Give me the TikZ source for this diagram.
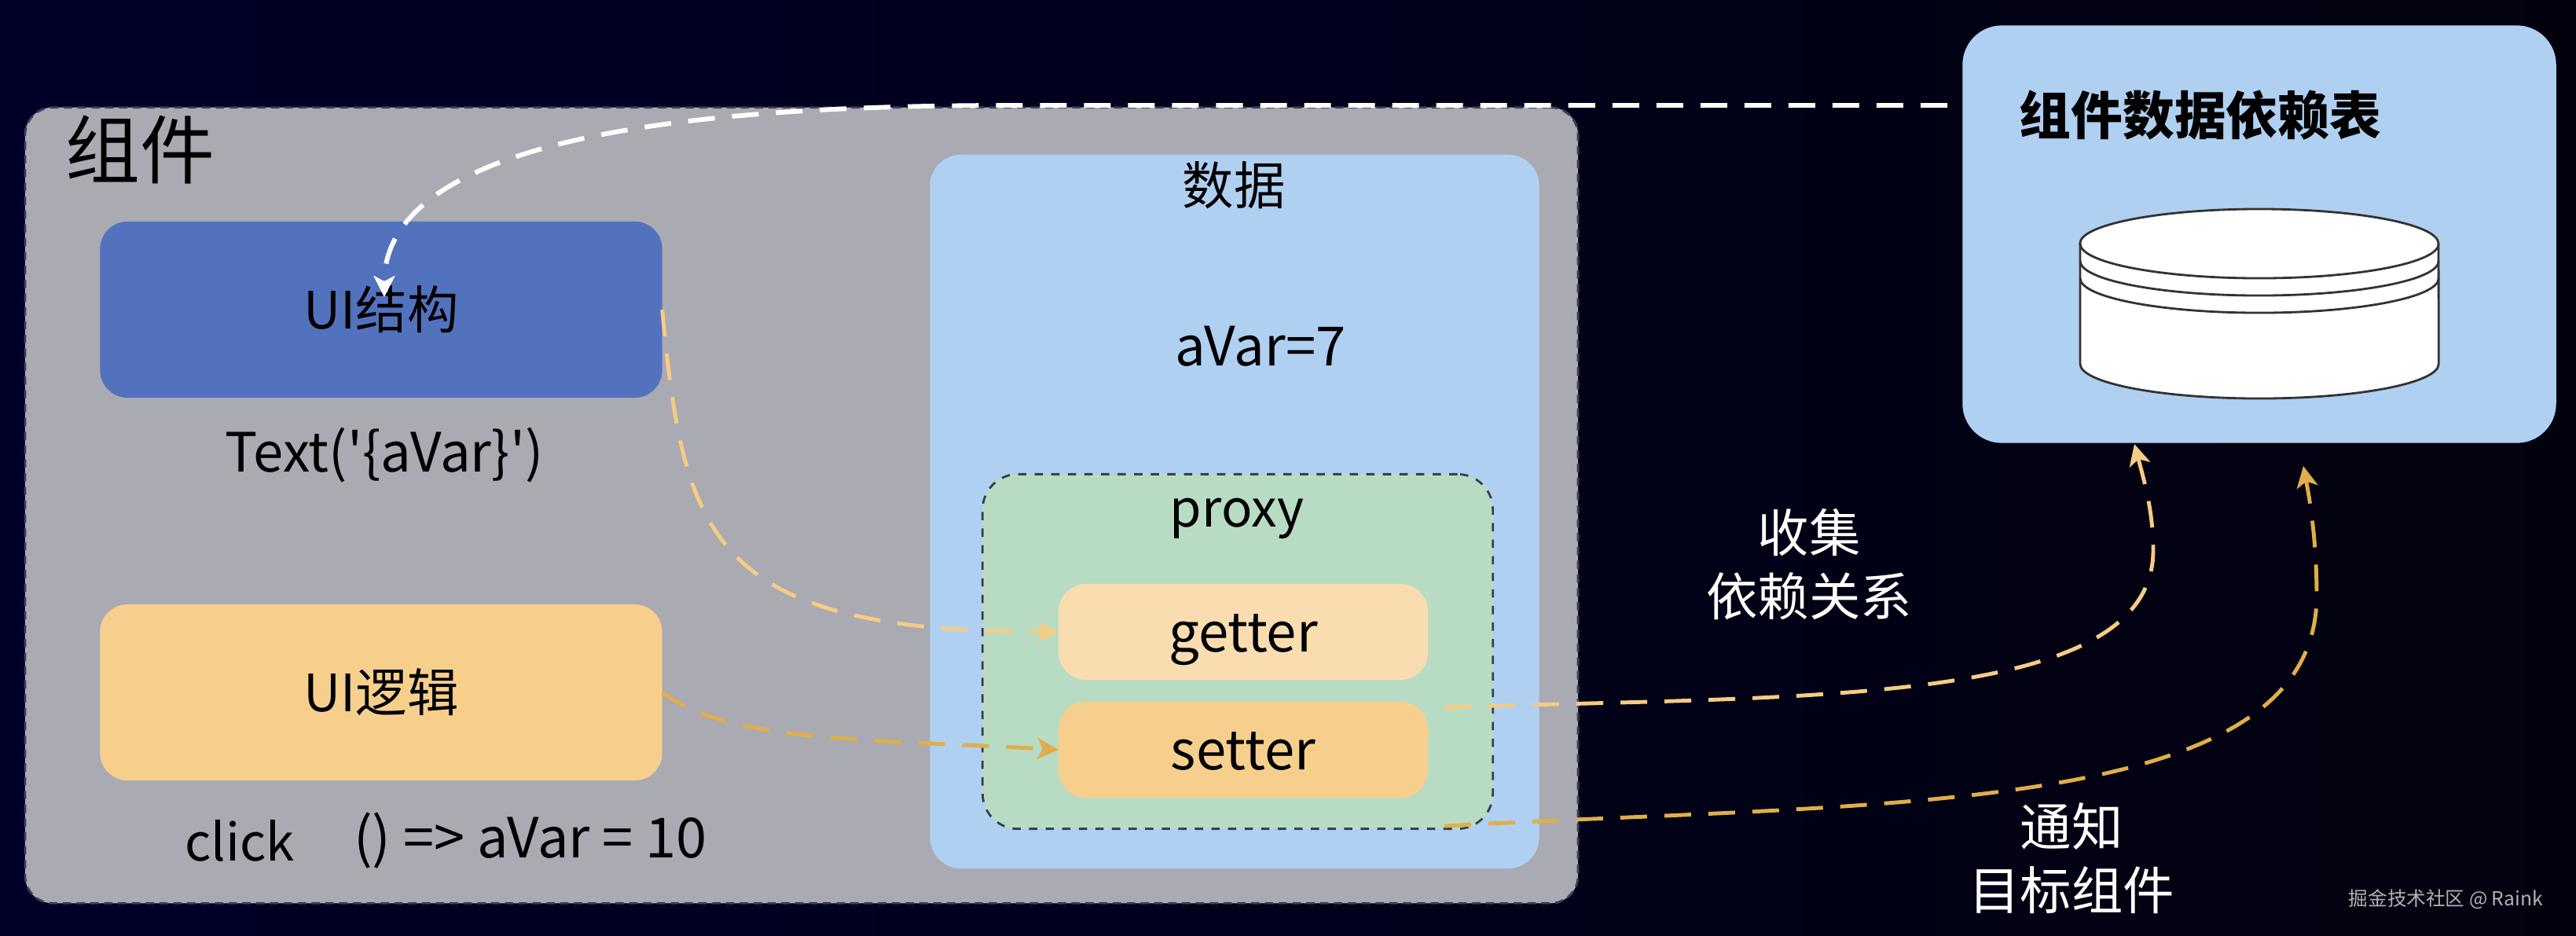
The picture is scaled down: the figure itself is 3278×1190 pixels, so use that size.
\documentclass[tikz,border=0pt]{standalone}
\usepackage{fontspec}
\setmainfont{Noto Sans CJK SC}
\usetikzlibrary{arrows.meta}
\definecolor{NightLeft}{HTML}{000028}
\definecolor{NightRight}{HTML}{02020F}
\definecolor{CompGray}{HTML}{A9AAB2}
\definecolor{EdgeSlate}{HTML}{3A3F55}
\definecolor{SkyBlue}{HTML}{B0D0F2}
\definecolor{RoyalBlue}{HTML}{5272BE}
\definecolor{SandOrange}{HTML}{F7CF8C}
\definecolor{PaleOrange}{HTML}{F9DDB0}
\definecolor{MintGreen}{HTML}{B8DCC3}
\definecolor{GoldLine}{HTML}{E0AE4A}
\definecolor{SandLine}{HTML}{F6CB84}
\tikzset{
  panel/.style={rounded corners=#1,inner sep=0pt,outer sep=0pt},
  bodytext/.style={font=\fontsize{18.6pt}{23pt}\selectfont,text=black},
  latintext/.style={font=\fontsize{19.6pt}{23pt}\selectfont,text=black},
  flow/.style={-{Stealth[length=2.7mm,width=2.7mm,inset=.7mm]},line width=1.4pt,dash pattern=on 3.4mm off 2.2mm},
}
\begin{document}
\begin{tikzpicture}[x=0.01cm,y=-0.01cm]
      \shade[left color=NightLeft,right color=NightRight] (0,0) rectangle (3278,1190);
      % boxes
      \node[panel=3.5mm,fill=CompGray,draw=EdgeSlate,densely dashed,line width=.8pt,minimum width=19.75cm,minimum height=10.12cm] (comp) at (1020,643) {};
      \node[panel=4mm,fill=SkyBlue,minimum width=7.75cm,minimum height=9.08cm] (data) at (1571,651) {};
      \node[panel=4.5mm,fill=MintGreen,draw=EdgeSlate,dashed,line width=.8pt,minimum width=6.49cm,minimum height=4.51cm] (proxy) at (1575,829) {};
      \node[panel=3.5mm,fill=PaleOrange,latintext,text height=.5cm,text depth=0pt,minimum width=4.70cm,minimum height=1.22cm] (getter) at (1582,804) {getter};
      \node[panel=3.5mm,fill=SandOrange,latintext,text height=.5cm,text depth=0pt,minimum width=4.70cm,minimum height=1.22cm] (setter) at (1582,954) {setter};
      \node[panel=3.5mm,fill=RoyalBlue,bodytext,minimum width=7.15cm,minimum height=2.24cm] (uiStruct) at (485,394) {UI结构};
      \node[panel=3.5mm,fill=SandOrange,bodytext,minimum width=7.15cm,minimum height=2.24cm] (uiLogic) at (485,881) {UI逻辑};
      \node[panel=5mm,fill=SkyBlue,minimum width=7.55cm,minimum height=5.31cm] (depTable) at (2875,298) {};
      % cylinder
      \draw[fill=white,draw=black!80,line width=.8pt] (2647,310) -- (2647,463) arc[start angle=180,end angle=360,x radius=2.28cm,y radius=.44cm] -- (3103,310) arc[start angle=0,end angle=180,x radius=2.28cm,y radius=.44cm] -- cycle;
      \foreach \y in {310,332,354}{
      \draw[draw=black!80,line width=.8pt] (2647,\y) arc[start angle=180,end angle=360,x radius=2.28cm,y radius=.44cm];
      }
      % texts
      \node[font=\fontsize{27pt}{30pt}\selectfont,text=black] (compTitle) at (178,190) {组件};
      \node[font=\fontsize{18.7pt}{23pt}\bfseries,text=black] (depTitle) at (2800,147) {组件数据依赖表};
      \node[bodytext] (dataTitle) at (1570,236) {数据};
      \node[latintext] (aVarText) at (1604,441) {aVar=7};
      \node[bodytext] (proxyTitle) at (1574,660) {proxy};
      \node[latintext] (textCall) at (489,579) {Text(\textquotesingle\{aVar\}\textquotesingle)};
      \node[bodytext] (clickText) at (305,1070) {click};
      \node[font=\fontsize{20pt}{23pt}\selectfont,text=black] (clickCall) at (675,1070) {() => aVar = 10};
      \node[bodytext,text=white,align=center] (collect) at (2302,718) {收集\\依赖关系};
      \node[bodytext,text=white,align=center] (notify) at (2636,1092) {通知\\目标组件};
      \node[font=\fontsize{7pt}{9pt}\selectfont,text=black!30,anchor=east] (mark) at (3248,1144) {掘金技术社区 @ Raink};
      % connector ends
      \coordinate (uiTip) at (489,378);
      \coordinate (depLeft) at (2478,134);
      \coordinate (setterOut) at (1838,900);
      \coordinate (proxyOut) at (1838,1051);
      \coordinate (depTipA) at (2716,565);
      \coordinate (depTipB) at (2931,593);
      % connectors
      \draw[flow,white,line width=1.7pt] (depLeft) -- (1300,134) .. controls (1000,134) and (489,150) .. (uiTip);
      \draw[flow,SandLine] (uiStruct.east) .. controls (870,680) and (900,804) .. (getter.west);
      \draw[flow,GoldLine] (uiLogic.east) .. controls (930,945) and (1100,940) .. (setter.west);
      \draw[flow,SandLine] (setterOut) .. controls (2300,885) and (2740,900) .. (2740,700) .. controls (2740,650) and (2728,610) .. (depTipA);
      \draw[flow,GoldLine] (proxyOut) .. controls (2400,1020) and (2945,1040) .. (2948,760) .. controls (2948,690) and (2940,640) .. (depTipB);
    \end{tikzpicture}
\end{document}
